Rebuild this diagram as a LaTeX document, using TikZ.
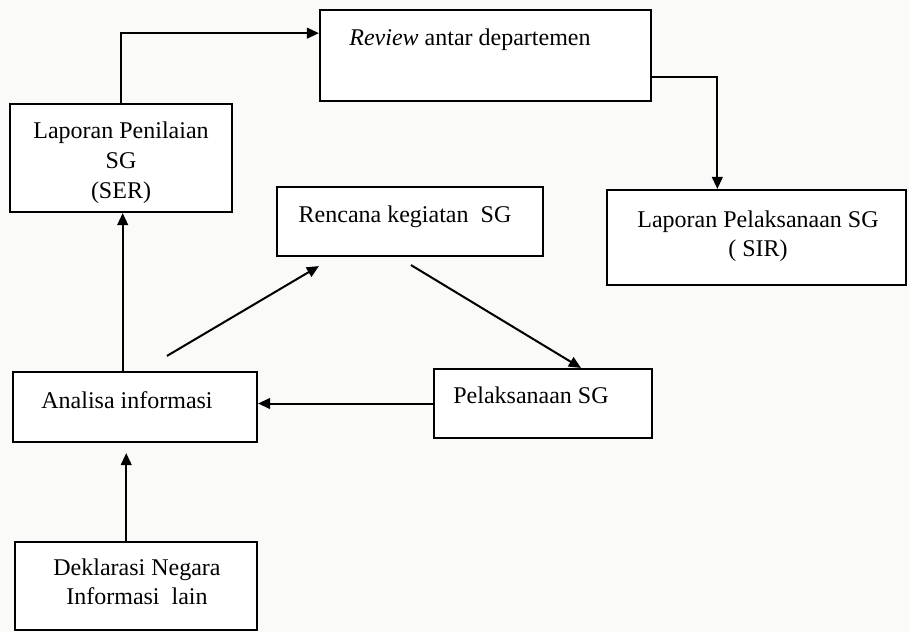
\documentclass[tikz,border=0pt]{standalone}
\usepackage{fontspec}
\setmainfont{Liberation Serif}
\usetikzlibrary{arrows.meta,calc,fit}
\definecolor{paper}{RGB}{250,250,248}
\begin{document}
\begin{tikzpicture}[x=0.75pt,y=-0.75pt,
  box/.style={draw, line width=1.6pt, inner sep=0pt, fill=white},
  lbl/.style={font=\fontsize{18}{21.75}\selectfont, inner sep=0pt, align=center},
  arr/.style={line width=1.5pt, -{Triangle[length=9pt,width=8pt]}}]
\fill[paper] (0,0) rectangle (909,632);
\useasboundingbox (0,0) rectangle (909,632);
% boxes
\node[box, fit={(320,10) (651,101)}] (rev) {};
\node[box, fit={(10,104) (232,212)}] (ser) {};
\node[box, fit={(277,187) (543,256)}] (ren) {};
\node[box, fit={(607,190) (906,285)}] (sir) {};
\node[box, fit={(13,372) (257,442)}] (ana) {};
\node[box, fit={(434,369) (652,438)}] (pel) {};
\node[box, fit={(15,542) (257,630)}] (dek) {};
% texts
\node[lbl, anchor=base] (trev) at (470,45) {\textit{Review} antar departemen};
\node[lbl, anchor=north, font=\fontsize{18}{22.5}\selectfont] (tser) at (121,122) {Laporan Penilaian\\SG\\(SER)};
\node[lbl, anchor=base] (tren) at (405,222) {Rencana kegiatan~ SG};
\node[lbl, anchor=north] (tsir) at (758,211) {Laporan Pelaksanaan SG\\( SIR)};
\node[lbl, anchor=base] (tana) at (127,408) {Analisa informasi};
\node[lbl, anchor=base] (tpel) at (531,403) {Pelaksanaan SG};
\node[lbl, anchor=north] (tdek) at (137,559) {Deklarasi Negara\\Informasi~ lain};
% connector points
\coordinate (revin) at ($(rev.north west)!0.26!(rev.south west)$);
\coordinate (revout) at ($(rev.north east)!0.73!(rev.south east)$);
\coordinate (sirin) at ($(sir.north west)!0.37!(sir.north east)$);
\coordinate (anaup) at ($(ana.north west)!0.45!(ana.north east)$);
\coordinate (dekup) at ($(dek.north west)!0.46!(dek.north east)$);
\coordinate (anaren) at ($(ana.north west)+(155,-15)$);
\coordinate (renin) at ($(ren.south west)+(43,9)$);
\coordinate (renout) at ($(ren.south)+(1,8)$);
\coordinate (pelin) at ($(pel.north west)+(148,0)$);
% connectors
\draw[arr] (ser.north) |- (revin);
\draw[arr] (revout) -| (sirin);
\draw[arr] (anaup) -- (anaup |- ser.south);
\draw[arr, shorten >=7.5pt] (dekup) -- (dekup |- ana.south);
\draw[arr] (pel.west) -- (pel.west -| ana.east);
\draw[arr] (anaren) -- (renin);
\draw[arr] (renout) -- (pelin);
\end{tikzpicture}
\end{document}
